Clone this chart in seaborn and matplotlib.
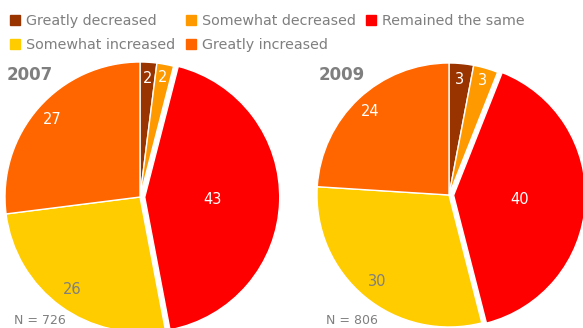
import numpy as np
import matplotlib
matplotlib.use("Agg")
import matplotlib.pyplot as plt
import seaborn as sns
from matplotlib.lines import Line2D

sns.set_theme(style="white")
plt.rcParams['font.family'] = ['DejaVu Sans']

# 資料
categories = ["Greatly decreased", "Somewhat decreased", "Remained the same",
              "Somewhat increased", "Greatly increased"]
values_2007 = [2, 2, 43, 26, 27]
values_2009 = [3, 3, 40, 30, 24]
years = ["2007", "2009"]
sample_sizes = ["N = 726", "N = 806"]

colors = sns.color_palette(["#993300", "#FF9900", "#FF0000", "#FFCC00", "#FF6600"])
label_colors = ["white", "white", "white", "#7f7f7f", "white"]
label_dist = [0.88, 0.90, 0.50, 0.85, 0.87]
explode = [0, 0, 0.035, 0, 0]
gray = "#7f7f7f"

W, H = 583, 328
fig = plt.figure(figsize=(W / 100, H / 100), dpi=100)

# 圓餅圖位置 (像素: 中心 x, 中心 y, 半徑)
pie_geom = [(140, 197, 135), (449, 195, 132)]
lim = 1.15

for vals, year, n_txt, (cx, cy, r) in zip([values_2007, values_2009], years,
                                         sample_sizes, pie_geom):
    size = 2 * r * lim
    cyb = H - cy
    ax = fig.add_axes([(cx - size / 2) / W, (cyb - size / 2) / H, size / W, size / H])
    wedges, _ = ax.pie(vals, colors=colors, startangle=90, counterclock=False,
                       explode=explode,
                       wedgeprops=dict(edgecolor="white", linewidth=1))
    for w, v, d, c, e in zip(wedges, vals, label_dist, label_colors, explode):
        ang = np.deg2rad((w.theta1 + w.theta2) / 2)
        x = (d + e) * np.cos(ang)
        y = (d + e) * np.sin(ang)
        ax.text(x, y, str(v), ha="center", va="center", color=c, fontsize=10.5)
    ax.set_xlim(-lim, lim)
    ax.set_ylim(-lim, lim)
    ax.set_aspect("equal")
    ax.axis("off")

    # 年份與樣本數
    fig.text((cx - r + 2) / W, 1 - 75 / H, year, fontsize=12, fontweight="bold",
             color=gray, va="center", ha="left")
    fig.text((cx - r + 9) / W, 1 / H, n_txt, fontsize=9, color=gray,
             va="bottom", ha="left")

# 圖例 (依列排列)
order = [0, 3, 1, 4, 2]
handles = [Line2D([0], [0], marker="s", linestyle="", markersize=7.5,
                  markerfacecolor=colors[i], markeredgecolor=colors[i]) for i in order]
labels = [categories[i] for i in order]
fig.legend(handles, labels, loc="upper left", bbox_to_anchor=(4 / W, 0.975), ncol=3,
           frameon=False, fontsize=10.3, labelcolor=gray, handlelength=0.8,
           handletextpad=0.35, columnspacing=0.7, labelspacing=0.72,
           borderaxespad=0.0)

fig.savefig("out.png", dpi=100)
